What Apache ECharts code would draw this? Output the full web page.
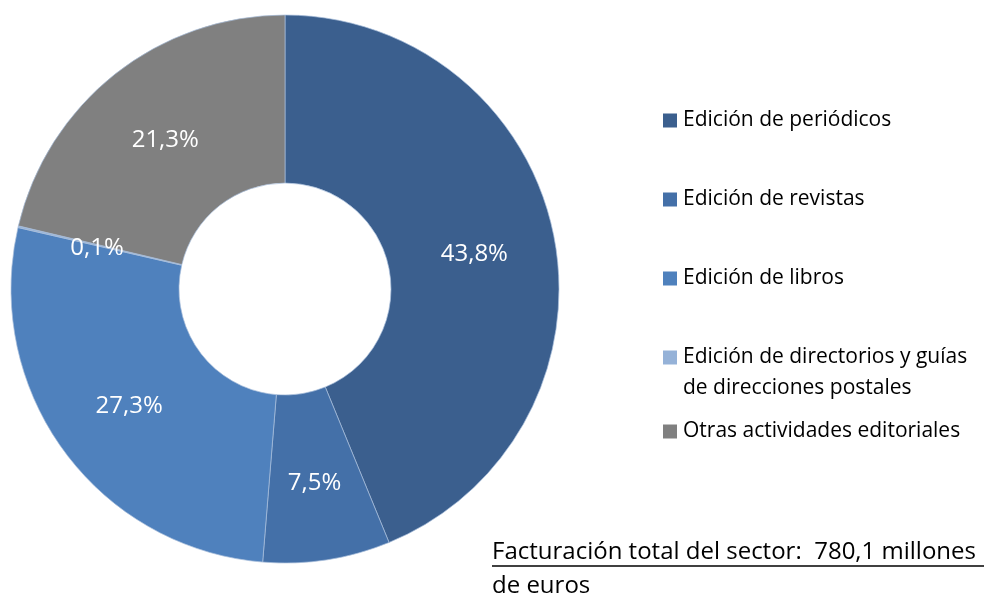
<!DOCTYPE html>
<html>
<head>
<meta charset="utf-8">
<script src="https://cdn.jsdelivr.net/npm/echarts@6/dist/echarts.min.js"></script>
<style>
  html,body{margin:0;padding:0;background:#fff;}
  #chart{width:984px;height:597px;}
</style>
</head>
<body>
<div id="chart"></div>
<script>
/* ---------- data ---------- */
const categories = [
  'Edición de periódicos',
  'Edición de revistas',
  'Edición de libros',
  'Edición de directorios y guías\nde direcciones postales',
  'Otras actividades editoriales'
];
const shares = [43.8, 7.5, 27.3, 0.1, 21.3];
const colors = ['#3b5f8e', '#4470a8', '#4f81bd', '#95b2d8', '#808080'];
const noteLines = ['Facturación total del sector:  780,1 millones', 'de euros'];

const FONT = '"Open Sans", Lato, sans-serif';
const pct = v => v.toFixed(1).replace('.', ',') + '%';

/* ---------- legend rich styles: a square + text, second line indented ---------- */
const rich = { t: { fontSize: 21, lineHeight: 31, color: '#000', fontFamily: FONT }, sp: { width: 20 } };
colors.forEach((c, i) => {
  rich['s' + i] = { width: 14, height: 14, backgroundColor: c };
  rich['g' + i] = { width: 6 };
});
function legendText(name){
  const i = categories.indexOf(name);
  const lines = name.split('\n');
  let txt = `{s${i}|}{g${i}|}{t|${lines[0]}}`;
  for (let k = 1; k < lines.length; k++) txt += `\n{sp|}{t|${lines[k]}}`;
  return txt;
}
const legendBase = {
  orient: 'vertical',
  left: 653,
  icon: 'none',
  itemWidth: 0,
  itemHeight: 14,
  itemGap: 58,
  selectedMode: false,
  formatter: legendText,
  textStyle: { rich: rich }
};

const chart = echarts.init(document.getElementById('chart'));
chart.setOption({
  animation: false,
  color: colors,
  textStyle: { fontFamily: FONT },
  legend: [
    Object.assign({}, legendBase, { top: 105, data: categories.slice(0, 4) }),
    Object.assign({}, legendBase, { top: 416, data: categories.slice(4) })
  ],
  series: [{
    type: 'pie',
    center: [285, 289],
    radius: [106, 274],
    startAngle: 90,
    clockwise: true,
    silent: true,
    itemStyle: { borderColor: '#a9bedb', borderWidth: 0.7 },
    label: {
      position: 'inside',
      color: '#fff',
      fontSize: 24,
      fontFamily: FONT,
      offset: [0, 3],
      formatter: p => pct(p.value)
    },
    labelLine: { show: false },
    data: categories.map((c, i) => ({ name: c, value: shares[i] }))
  }],
  graphic: [
    { type: 'text', left: 492, top: 540, style: { text: noteLines[0], fontSize: 24, fontFamily: FONT, fill: '#000' } },
    { type: 'line', shape: { x1: 492, y1: 566, x2: 984, y2: 566 }, style: { stroke: '#000', lineWidth: 1.5 } },
    { type: 'text', left: 492, top: 574, style: { text: noteLines[1], fontSize: 24, fontFamily: FONT, fill: '#000' } }
  ]
});
</script>
</body>
</html>
